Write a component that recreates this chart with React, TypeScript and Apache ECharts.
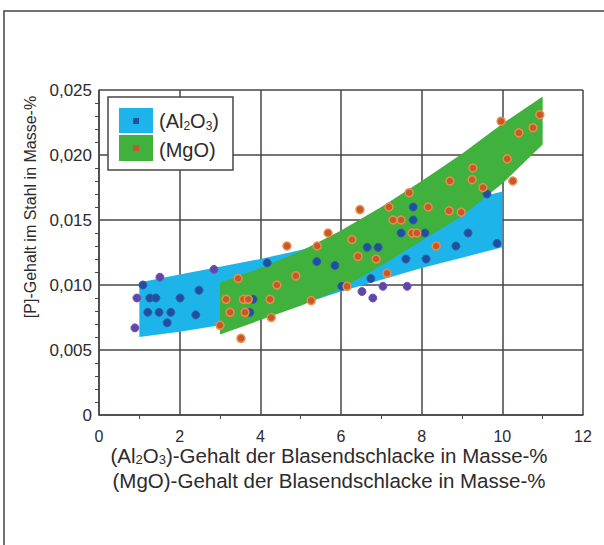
import React, { useEffect, useRef } from "react";
import * as echarts from "echarts";

// Band boundaries [x, y]
const alUpper = [[1, 0.0102], [2, 0.0108], [3, 0.0114], [4, 0.0120], [5, 0.0127], [6, 0.0136], [7, 0.0146], [8, 0.0155], [9, 0.0164], [10, 0.0172]];
const alLower = [[1, 0.0060], [2, 0.0064], [3, 0.0069], [4, 0.0076], [5, 0.0085], [6, 0.0095], [7, 0.0104], [8, 0.0113], [9, 0.0121], [10, 0.0129]];
const mgUpper = [[3, 0.0102], [4, 0.0113], [5, 0.0126], [6, 0.0142], [7, 0.0160], [8, 0.0180], [9, 0.0201], [10, 0.0224], [11, 0.0245]];
const mgLower = [[3, 0.0062], [4, 0.0073], [5, 0.0084], [6, 0.0097], [7, 0.0115], [8, 0.0134], [9, 0.0153], [10, 0.0178], [11, 0.0208]];

// Measured points
const alPoints = [
  [1.09, 0.0100], [1.26, 0.0090], [1.41, 0.0090], [2.01, 0.0090], [2.48, 0.0096],
  [1.21, 0.0079], [1.49, 0.0079], [1.78, 0.0079], [2.40, 0.0077], [1.69, 0.0071],
  [3.82, 0.0089], [3.74, 0.0079], [4.17, 0.0117], [5.40, 0.0118], [5.85, 0.0115],
  [6.02, 0.0099], [6.65, 0.0129], [6.92, 0.0129], [7.61, 0.0120], [8.11, 0.0120],
  [6.74, 0.0105], [7.79, 0.0160], [7.79, 0.0150], [7.49, 0.0140], [8.08, 0.0140],
  [8.85, 0.0130], [9.15, 0.0140], [9.62, 0.0170], [9.87, 0.0132]
];
const alPointsPurple = [
  [0.94, 0.0090], [0.89, 0.0067], [1.51, 0.0106], [2.85, 0.0112],
  [6.52, 0.0095], [7.04, 0.0099], [7.64, 0.0099], [6.79, 0.0090]
];
const mgPoints = [
  [4.66, 0.0130], [5.41, 0.0130], [5.68, 0.0140], [3.45, 0.0105], [4.41, 0.0100],
  [4.88, 0.0107], [3.15, 0.0089], [3.58, 0.0089], [3.70, 0.0089], [4.24, 0.0089],
  [3.25, 0.0079], [3.62, 0.0079], [3.00, 0.0069], [4.27, 0.0075], [3.52, 0.0059],
  [5.26, 0.0088], [6.15, 0.0099], [6.27, 0.0135], [6.42, 0.0122], [6.87, 0.0120],
  [7.14, 0.0109], [6.47, 0.0158], [7.19, 0.0160], [7.69, 0.0171], [8.16, 0.0160],
  [8.68, 0.0157], [8.98, 0.0156], [7.29, 0.0150], [7.49, 0.0150], [7.76, 0.0140],
  [7.88, 0.0140], [8.36, 0.0130], [8.70, 0.0180], [9.25, 0.0181], [9.27, 0.0190],
  [9.52, 0.0175], [9.97, 0.0226], [10.93, 0.0231], [10.76, 0.0221], [10.41, 0.0217],
  [10.12, 0.0197], [10.26, 0.0180]
];

const xTicks = { min: 0, max: 12, interval: 2 };
const yTicks = { min: 0, max: 0.025, interval: 0.005 };

const FONT = "'Liberation Sans', Arial, sans-serif";
const TXT = "#2e2b2b";
const GRID = "#4a4545";

function bandSeries(upper: number[][], lower: number[][], color: string) {
  return {
    type: "custom",
    data: [0],
    silent: true,
    renderItem: (_params: any, api: any) => {
      const pts = upper.concat(lower.slice().reverse()).map((p) => api.coord(p));
      return { type: "polygon", shape: { points: pts }, style: { fill: color } };
    },
  };
}

export default function App() {
  const ref = useRef<HTMLDivElement>(null);
  useEffect(() => {
    if (!ref.current) return;
    const chart = echarts.init(ref.current, null, { renderer: "svg" });
    chart.setOption({
      animation: false,
      backgroundColor: "#ffffff",
      grid: { left: 99, top: 90, right: 21, bottom: 130 },
      xAxis: {
        type: "value",
        min: xTicks.min,
        max: xTicks.max,
        interval: xTicks.interval,
        axisLine: { show: true, lineStyle: { color: GRID, width: 1.5 } },
        axisTick: { show: false },
        minorTick: { show: true, splitNumber: 2, length: 4, lineStyle: { color: GRID } },
        splitLine: { show: true, lineStyle: { color: GRID, width: 1.5 } },
        axisLabel: { color: TXT, fontFamily: FONT, fontSize: 16, margin: 13 },
      },
      yAxis: {
        type: "value",
        min: yTicks.min,
        max: yTicks.max,
        interval: yTicks.interval,
        axisLine: { show: true, lineStyle: { color: GRID, width: 1.5 } },
        axisTick: { show: false },
        minorTick: { show: true, splitNumber: 5, length: 4, lineStyle: { color: GRID } },
        splitLine: { show: true, lineStyle: { color: GRID, width: 1.5 } },
        axisLabel: {
          color: TXT,
          fontFamily: FONT,
          fontSize: 17,
          margin: 7,
          formatter: (v: number) => (v === 0 ? "0" : v.toFixed(3).replace(".", ",")),
        },
      },
      series: [
        bandSeries(alUpper, alLower, "#1db4ea"),
        bandSeries(mgUpper, mgLower, "#3fb13c"),
        {
          type: "scatter",
          data: alPoints,
          symbolSize: 8,
          itemStyle: { color: "#1f4f9e", borderColor: "#2d5fae", borderWidth: 1, opacity: 1 },
          z: 5,
        },
        {
          type: "scatter",
          data: alPointsPurple,
          symbolSize: 8,
          itemStyle: { color: "#6046a8", borderColor: "#7458b8", borderWidth: 1, opacity: 1 },
          z: 5,
        },
        {
          type: "scatter",
          data: mgPoints,
          symbolSize: 8,
          itemStyle: { color: "#c45a2c", borderColor: "#ee8a48", borderWidth: 1.5, opacity: 1 },
          z: 6,
        },
      ],
      graphic: [
        {
          type: "rect",
          shape: { x: 4, y: 11, width: 640, height: 600 },
          style: { fill: "none", stroke: "#444", lineWidth: 1.5 },
          silent: true,
        },
        {
          type: "rect",
          shape: { x: 108, y: 97, width: 125, height: 73 },
          style: { fill: "#ffffff", stroke: "#4a4545", lineWidth: 1.5 },
          z: 10,
        },
        { type: "rect", shape: { x: 119, y: 108, width: 34, height: 25 }, style: { fill: "#1db4ea" }, z: 11 },
        { type: "rect", shape: { x: 119, y: 135, width: 34, height: 26 }, style: { fill: "#3fb13c" }, z: 11 },
        { type: "rect", shape: { x: 133, y: 118, width: 6, height: 6 }, style: { fill: "#1f4f9e" }, z: 12 },
        { type: "rect", shape: { x: 133, y: 145, width: 6, height: 6 }, style: { fill: "#c45a2c" }, z: 12 },
        {
          type: "text",
          x: 159,
          y: 121,
          z: 12,
          style: {
            text: "(Al{s|2}O{s|3})",
            fill: TXT,
            font: `20px ${FONT}`,
            verticalAlign: "middle",
            rich: { s: { fontSize: 12, fontFamily: FONT, fill: TXT, padding: [9, 0, 0, 0] } },
          },
        },
        {
          type: "text",
          x: 159,
          y: 150,
          z: 12,
          style: { text: "(MgO)", fill: TXT, font: `20px ${FONT}`, verticalAlign: "middle" },
        },
        {
          type: "text",
          x: 30,
          y: 207,
          rotation: Math.PI / 2,
          style: {
            text: "[P]-Gehalt im Stahl in Masse-%",
            fill: TXT,
            font: `16px ${FONT}`,
            align: "center",
            verticalAlign: "middle",
          },
        },
        {
          type: "text",
          x: 329,
          y: 455,
          style: {
            text: "(Al{s|2}O{s|3})-Gehalt der Blasendschlacke in Masse-%",
            fill: TXT,
            font: `20.5px ${FONT}`,
            align: "center",
            verticalAlign: "middle",
            rich: { s: { fontSize: 13, fontFamily: FONT, fill: TXT, padding: [9, 0, 0, 0] } },
          },
        },
        {
          type: "text",
          x: 329,
          y: 480,
          style: {
            text: "(MgO)-Gehalt der Blasendschlacke in Masse-%",
            fill: TXT,
            font: `20.5px ${FONT}`,
            align: "center",
            verticalAlign: "middle",
          },
        },
      ],
    });
    return () => chart.dispose();
  }, []);
  return (
    <div
      ref={ref}
      style={{ position: "absolute", left: 0, top: 0, width: 604, height: 545 }}
    />
  );
}
